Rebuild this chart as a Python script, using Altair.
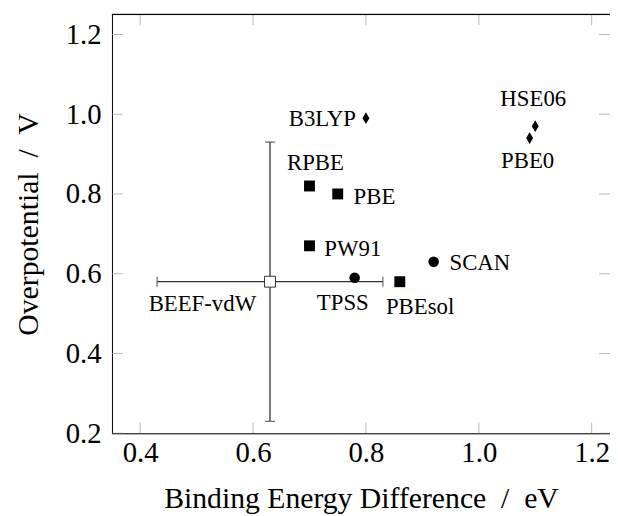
import altair as alt
import pandas as pd

# ---- data ----
names = ["B3LYP", "HSE06", "PBE0", "RPBE", "PBE", "PW91", "SCAN", "TPSS", "PBEsol", "BEEF-vdW"]
binding = [0.80, 1.10, 1.09, 0.70, 0.75, 0.70, 0.92, 0.78, 0.86, 0.63]
overpot = [0.99, 0.97, 0.94, 0.82, 0.80, 0.67, 0.63, 0.59, 0.58, 0.58]
kinds = ["hybrid", "hybrid", "hybrid", "gga", "gga", "gga", "meta", "meta", "gga", "beef"]

beef_x_err = 0.20
beef_y_err = 0.35

x_ticks = [0.4, 0.6, 0.8, 1.0, 1.2]
y_ticks = [0.2, 0.4, 0.6, 0.8, 1.0, 1.2]

x_title = "Binding Energy Difference\u2002/\u2002eV"
y_title = "Overpotential\u2002/\u2002V"

# ---- layout / style ----
W, H = 503, 423
X_DOM = [0.35, 0.35 + W / 570.0]
Y_DOM = [0.2, 1.25]
FONT = "Liberation Serif, DejaVu Serif, serif"

# label nudges (pixels) for each annotation
label_style = {
    "B3LYP": ("right", -10, 1),
    "HSE06": ("center", -2, -27),
    "PBE0": ("center", -2, 23),
    "RPBE": ("center", 6, -23),
    "PBE": ("left", 16, 3),
    "PW91": ("left", 15, 3),
    "SCAN": ("left", 16, 1),
    "TPSS": ("center", -12, 26),
    "PBEsol": ("left", -14, 26),
    "BEEF-vdW": ("right", -14, 23),
}

df = pd.DataFrame({"name": names, "x": binding, "y": overpot, "kind": kinds})
beef = df[df.name == "BEEF-vdW"].iloc[0]
err = pd.DataFrame({
    "x": [beef.x], "y": [beef.y],
    "xlo": [beef.x - beef_x_err], "xhi": [beef.x + beef_x_err],
    "ylo": [beef.y - beef_y_err], "yhi": [beef.y + beef_y_err],
})

xs = alt.Scale(domain=X_DOM, nice=False, zero=False)
ys = alt.Scale(domain=Y_DOM, nice=False, zero=False)

X = alt.X("x:Q", scale=xs, axis=alt.Axis(
    title=x_title, values=x_ticks, format=".1f",
    ticks=False, tickSize=0, grid=False, labelPadding=5, titlePadding=17,
    domainColor="black", labelColor="black", titleColor="black",
    labelFontSize=29, titleFontSize=30, labelFont=FONT, titleFont=FONT,
    titleFontWeight="normal", labelFlush=False))
Y = alt.Y("y:Q", scale=ys, axis=alt.Axis(
    title=y_title, values=y_ticks, format=".1f",
    ticks=False, tickSize=0, grid=False, labelPadding=11, titlePadding=22,
    domainColor="black", labelColor="black", titleColor="black",
    labelFontSize=29, titleFontSize=30, labelFont=FONT, titleFont=FONT,
    titleFontWeight="normal", labelFlush=False))

base = alt.Chart(df)

# inward tick marks on all four sides (clipped half ticks)
xt = pd.DataFrame({"x": x_ticks})
yt = pd.DataFrame({"y": y_ticks})
tick_color = "#9a9a9a"
xtick_b = alt.Chart(xt).mark_tick(orient="vertical", size=22, thickness=1, color=tick_color, clip=True).encode(
    x=alt.X("x:Q", scale=xs), y=alt.value(H))
xtick_t = alt.Chart(xt).mark_tick(orient="vertical", size=22, thickness=1, color=tick_color, clip=True).encode(
    x=alt.X("x:Q", scale=xs), y=alt.value(0))
ytick_l = alt.Chart(yt).mark_tick(orient="horizontal", size=22, thickness=1, color=tick_color, clip=True).encode(
    y=alt.Y("y:Q", scale=ys), x=alt.value(0))
ytick_r = alt.Chart(yt).mark_tick(orient="horizontal", size=22, thickness=1, color=tick_color, clip=True).encode(
    y=alt.Y("y:Q", scale=ys), x=alt.value(W))
top_border = alt.Chart(xt).mark_rule(color="black", strokeWidth=1).encode(
    x=alt.value(0), x2=alt.value(W), y=alt.value(0))

# error bars for BEEF-vdW
ec = "#333333"
ew = 1.3
eb = alt.Chart(err)
h_bar = eb.mark_rule(color=ec, strokeWidth=ew).encode(
    x=alt.X("xlo:Q", scale=xs), x2="xhi:Q", y=alt.Y("y:Q", scale=ys))
v_bar = eb.mark_rule(color=ec, strokeWidth=ew).encode(
    y=alt.Y("ylo:Q", scale=ys), y2="yhi:Q", x=alt.X("x:Q", scale=xs))
cap_l = eb.mark_tick(orient="vertical", size=10, thickness=ew, color=ec).encode(
    x=alt.X("xlo:Q", scale=xs), y=alt.Y("y:Q", scale=ys))
cap_r = eb.mark_tick(orient="vertical", size=10, thickness=ew, color=ec).encode(
    x=alt.X("xhi:Q", scale=xs), y=alt.Y("y:Q", scale=ys))
cap_b = eb.mark_tick(orient="horizontal", size=10, thickness=ew, color=ec).encode(
    x=alt.X("x:Q", scale=xs), y=alt.Y("ylo:Q", scale=ys))
cap_t = eb.mark_tick(orient="horizontal", size=10, thickness=ew, color=ec).encode(
    x=alt.X("x:Q", scale=xs), y=alt.Y("yhi:Q", scale=ys))

diamond = "M0,-1L0.58,0L0,1L-0.58,0Z"
squares = base.transform_filter(alt.datum.kind == "gga").mark_point(
    shape="square", filled=True, size=121, color="black", opacity=1).encode(x=X, y=Y)
diamonds = base.transform_filter(alt.datum.kind == "hybrid").mark_point(
    shape=diamond, filled=True, size=144, color="black", opacity=1).encode(x=X, y=Y)
circles = base.transform_filter(alt.datum.kind == "meta").mark_point(
    shape="circle", filled=True, size=113, color="black", opacity=1).encode(x=X, y=Y)
open_sq = base.transform_filter(alt.datum.kind == "beef").mark_point(
    shape="square", filled=True, size=121, fill="white", stroke="#333333",
    strokeWidth=1, opacity=1).encode(x=X, y=Y)

labels = []
for n in names:
    al, dx, dy = label_style[n]
    labels.append(base.transform_filter(alt.datum.name == n).mark_text(
        align=al, baseline="middle", dx=dx, dy=dy, font=FONT, fontSize=23,
        color="black").encode(x=alt.X("x:Q", scale=xs), y=alt.Y("y:Q", scale=ys), text="name:N"))

chart = alt.layer(
    squares, xtick_b, xtick_t, ytick_l, ytick_r, top_border,
    h_bar, v_bar, cap_l, cap_r, cap_b, cap_t,
    diamonds, circles, open_sq, *labels
).properties(
    width=W, height=H,
    autosize=alt.AutoSizeParams(type="none"),
    padding={"left": 105, "top": 4, "right": 0, "bottom": 80},
).configure_view(stroke=None).configure(background="white")

chart.save("out.html", embed_options={"renderer": "svg", "actions": False})
